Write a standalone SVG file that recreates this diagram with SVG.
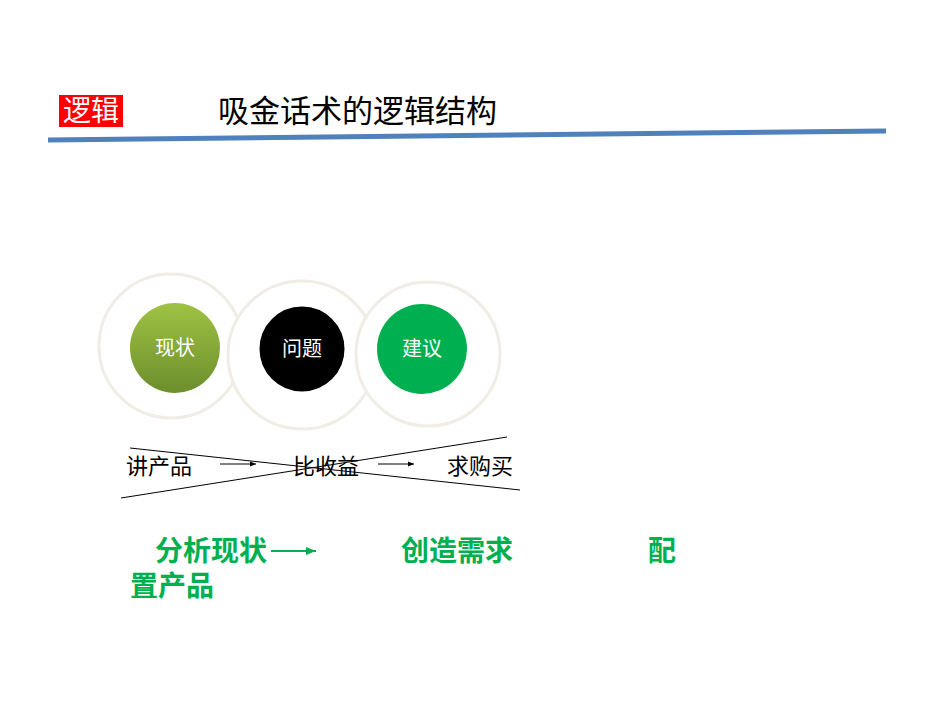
<svg xmlns="http://www.w3.org/2000/svg" width="950" height="713" viewBox="0 0 950 713">
<defs>
<style>
.ring{fill:#fff;stroke:#efede5;stroke-width:3}
.cn{font-family:"Liberation Sans","Noto Sans CJK SC",sans-serif}
.wt{fill:#fff;font-size:20px;text-anchor:middle}
.bk{fill:#000;font-size:22px}
.gr{fill:#00b050;font-size:28px;font-weight:bold}
.ln{stroke:#000;stroke-width:1}
</style>
<marker id="ah" viewBox="0 0 10 10" refX="10" refY="5" markerWidth="6" markerHeight="6" orient="auto"><path d="M0,1L10,5L0,9z" fill="#000"/></marker>
<marker id="ahg" viewBox="0 0 10 10" refX="10" refY="5" markerWidth="5" markerHeight="5" orient="auto"><path d="M0,1L10,5L0,9z" fill="#00b050"/></marker>
<linearGradient id="g1" x1="0" y1="0" x2="0" y2="1"><stop offset="0" stop-color="#9fc244"/><stop offset="1" stop-color="#6c8e2c"/></linearGradient>
</defs>
<rect width="950" height="713" fill="#fff"/>
<g id="header">
<rect x="59" y="95" width="64" height="32" fill="#ff0000"/>
<text x="91" y="121" class="cn" font-size="28" fill="#fff" text-anchor="middle">逻辑</text>
<text x="218" y="122" class="cn" font-size="31" fill="#000">吸金话术的逻辑结构</text>
<line x1="48" y1="140" x2="886" y2="131" stroke="#4f81bd" stroke-width="5"/>
</g>
<g id="rings">
<circle class="ring" cx="171" cy="346" r="72"/>
<circle class="ring" cx="302" cy="355" r="74"/>
<circle class="ring" cx="428" cy="354" r="72"/>
</g>
<g id="n1"><circle cx="175" cy="348" r="45" fill="url(#g1)"/><text x="175" y="355" class="cn wt">现状</text></g>
<g id="n2"><circle cx="302" cy="349" r="44" fill="#000" stroke="#fff" stroke-width="3"/><text x="302" y="356" class="cn wt">问题</text></g>
<g id="n3"><circle cx="422" cy="349" r="45" fill="#00b050"/><text x="422" y="356" class="cn wt">建议</text></g>
<g id="connectors">
<line x1="130" y1="448" x2="520" y2="490" class="ln"/>
<line x1="121" y1="498" x2="507" y2="437" class="ln"/>
<line x1="220" y1="464" x2="256" y2="464" class="ln" marker-end="url(#ah)"/>
<line x1="378" y1="464" x2="414" y2="464" class="ln" marker-end="url(#ah)"/>
<line x1="271" y1="551" x2="316" y2="551" stroke="#00b050" stroke-width="2" marker-end="url(#ahg)"/>
</g>
<g id="labels">
<text x="126" y="474" class="cn bk">讲产品</text>
<text x="293" y="474" class="cn bk">比收益</text>
<text x="447" y="474" class="cn bk">求购买</text>
<text x="155" y="561" class="cn gr">分析现状</text>
<text x="401" y="561" class="cn gr">创造需求</text>
<text x="648" y="561" class="cn gr">配</text>
<text x="130" y="596" class="cn gr">置产品</text>
</g>
</svg>
